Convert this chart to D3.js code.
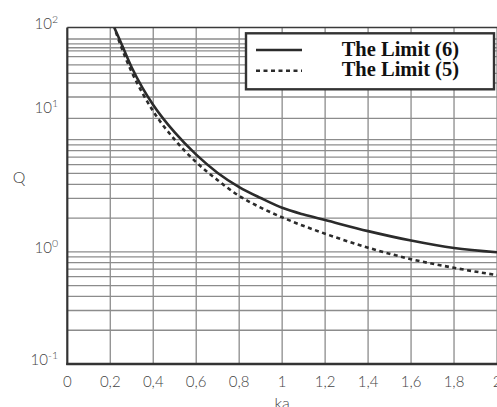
<!DOCTYPE html>
<html>
<head>
<meta charset="utf-8">
<script src="https://cdn.jsdelivr.net/npm/d3@7"></script>
<style>
  body { margin: 0; background: #fff; }
  svg { display: block; }
</style>
</head>
<body>
<div id="chart"></div>
<script>
let WIDTH = 497
let HEIGHT = 407

// ka values and Q values
let kaLimit6 = [0.2186, 0.25, 0.3, 0.35, 0.4, 0.5, 0.6, 0.7, 0.8, 0.9, 1.0, 1.1, 1.2, 1.4, 1.6, 1.8, 2.0]
let qLimit6  = [100, 73, 44, 29, 20.4, 11.6, 7.35, 5.05, 3.78, 3.02, 2.47, 2.15, 1.92, 1.53, 1.26, 1.08, 0.99]
let kaLimit5 = [0.226, 0.25, 0.3, 0.35, 0.4, 0.5, 0.6, 0.7, 0.8, 0.9, 1.0, 1.2, 1.4, 1.6, 1.8, 2.0]
let qLimit5  = [91, 68, 40, 26, 17.9, 10.0, 6.3, 4.35, 3.15, 2.48, 2.03, 1.45, 1.09, 0.86, 0.72, 0.62]

let xTicks = [0, 0.2, 0.4, 0.6, 0.8, 1, 1.2, 1.4, 1.6, 1.8, 2]
let yLabels = [{base: '10', exp: '-1'}, {base: '10', exp: '0'}, {base: '10', exp: '1'}, {base: '10', exp: '2'}]
let yLabelAt = [0.1, 1, 17.5, 100]   // where each label sits on the Q axis
// horizontal grid lines (the upper decade in the original is drawn irregularly)
let yGrid = [0.2, 0.3, 0.4, 0.5, 0.6, 0.7, 0.8, 0.9, 1, 2, 3, 4, 5, 6, 7, 8, 9, 10,
             15.5, 24, 32, 39, 46.5, 55, 62, 66, 71.5, 79]
let legendNames = ['The Limit (6)', 'The Limit (5)']

let plotL = 67.3, plotR = 497, plotT = 27.5, plotB = 364

let svg = d3.select('#chart')
    .append('svg')
    .attr('width', WIDTH)
    .attr('height', HEIGHT)

let x = d3.scaleLinear().domain([0, 2]).range([plotL, plotR])
let y = d3.scaleLog().domain([0.1, 100]).range([plotB, plotT])

svg.append('clipPath').attr('id', 'plot')
    .append('rect')
    .attr('x', plotL).attr('y', plotT)
    .attr('width', plotR - plotL).attr('height', plotB - plotT)

// grid
let grid = svg.append('g').attr('stroke', '#8c8c8c').attr('stroke-width', 1.3)
grid.selectAll('line.h').data(yGrid).join('line')
    .attr('class', 'h')
    .attr('x1', plotL).attr('x2', plotR)
    .attr('y1', d => y(d)).attr('y2', d => y(d))
grid.selectAll('line.v').data(xTicks.slice(1)).join('line')
    .attr('class', 'v')
    .attr('x1', d => x(d)).attr('x2', d => x(d))
    .attr('y1', plotT).attr('y2', plotB)

// frame
svg.append('line').attr('x1', plotL).attr('x2', plotR).attr('y1', plotT).attr('y2', plotT)
    .attr('stroke', '#3a3a3a').attr('stroke-width', 1.6)
svg.append('line').attr('x1', plotL).attr('x2', plotL).attr('y1', plotT).attr('y2', plotB + 1)
    .attr('stroke', '#333').attr('stroke-width', 2.2)
svg.append('line').attr('x1', plotL - 1).attr('x2', plotR).attr('y1', plotB).attr('y2', plotB)
    .attr('stroke', '#333').attr('stroke-width', 2.4)

// curves
let line = d3.line().curve(d3.curveMonotoneX)
let curves = svg.append('g').attr('clip-path', 'url(#plot)').attr('fill', 'none')
curves.append('path')
    .attr('d', line(kaLimit6.map((k, i) => [x(k), y(qLimit6[i])])))
    .attr('stroke', '#2b2b2b').attr('stroke-width', 2.6)
curves.append('path')
    .attr('d', line(kaLimit5.map((k, i) => [x(k), y(qLimit5[i])])))
    .attr('stroke', '#2b2b2b').attr('stroke-width', 2.6)
    .attr('stroke-dasharray', '4,3.5')

// x tick labels
let fmt = d => String(d3.format('.1~f')(d)).replace('.', ',')
svg.append('g').selectAll('text').data(xTicks).join('text')
    .attr('x', d => x(d)).attr('y', 387)
    .attr('text-anchor', 'middle')
    .attr('font-family', 'Lato, "Open Sans", sans-serif')
    .attr('font-weight', 300)
    .attr('font-size', 15)
    .attr('fill', '#444')
    .text(fmt)

// y tick labels
let yl = svg.append('g').selectAll('text').data(yLabels).join('text')
    .attr('x', 58).attr('y', (d, i) => y(yLabelAt[i]) + 1)
    .attr('text-anchor', 'end')
    .attr('font-family', 'Lato, "Open Sans", sans-serif')
    .attr('font-weight', 300)
    .attr('font-size', 15)
    .attr('fill', '#444')
yl.append('tspan').text(d => d.base)
yl.append('tspan').attr('dy', -6).attr('font-size', 10.5).text(d => d.exp)

// axis titles
svg.append('text').attr('x', 19).attr('y', 183)
    .attr('text-anchor', 'middle')
    .attr('font-family', 'Lato, "Open Sans", sans-serif')
    .attr('font-weight', 300).attr('font-size', 16).attr('fill', '#444')
    .text('Q')
svg.append('text').attr('x', x(1)).attr('y', 409)
    .attr('text-anchor', 'middle')
    .attr('font-family', 'Lato, "Open Sans", sans-serif')
    .attr('font-weight', 300).attr('font-size', 16).attr('fill', '#444')
    .text('ka')

// legend
let lg = svg.append('g')
lg.append('rect').attr('x', 246).attr('y', 33.3).attr('width', 248).attr('height', 56)
    .attr('fill', '#fff').attr('stroke', '#333').attr('stroke-width', 2.4)
legendNames.forEach((name, i) => {
    let ly = 50 + i * 20.7
    lg.append('line').attr('x1', 256).attr('x2', 302).attr('y1', ly).attr('y2', ly)
        .attr('stroke', '#2b2b2b').attr('stroke-width', 2.6)
        .attr('stroke-dasharray', i === 1 ? '4,3.5' : null)
    lg.append('text').attr('x', 341.7).attr('y', ly + 5.5)
        .attr('font-family', '"Liberation Serif", "Times New Roman", serif')
        .attr('font-weight', 'bold').attr('font-size', 20.5).attr('fill', '#111')
        .text(name)
})
</script>
</body>
</html>
